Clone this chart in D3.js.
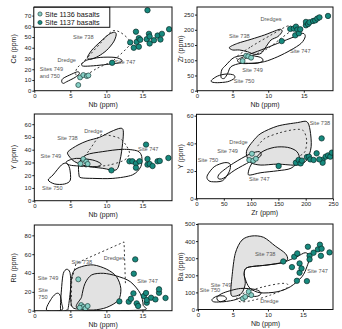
<!DOCTYPE html>
<html><head><meta charset="utf-8">
<script src="https://cdn.jsdelivr.net/npm/d3@7"></script>
<style>body{margin:0;background:#fff}svg{display:block}text{font-family:"Liberation Sans",Arial,sans-serif}</style>
</head><body>
<svg id="c" width="342" height="329"></svg>
<script>
// ---------- DATA ----------
const seriesNames = ["Site 1136 basalts", "Site 1137 basalts"];
// Panel 1: Nb vs Ce
const p1_1136 = [[6.1,5.3],[6.35,12.4],[6.8,14.6],[7.28,13.6],[7.5,14.2]];
const p1_1137 = [[10.8,26],[13.3,45],[13.8,40],[14.2,45.5],[14.1,55],[14.5,41],[14.5,49],[14.7,47.5],[15.6,48],[15.7,75],[15.9,53],[16.0,44],[16.0,50.5],[16.6,47],[17.1,51.4],[17.5,47.7],[17.7,53],[18.7,57.3]];
const p1_738 = [[7.37,31],[7.98,37.8],[9.14,45.5],[10.3,52.3],[11.13,54.5],[11.36,52],[11.0,45.5],[10.06,37.8],[8.9,32.2],[7.84,29.4]];
const p1_747 = [[6.59,24.8],[7.28,28.5],[9.14,31],[11.2,31],[12.15,28.5],[11.8,26],[10.06,24.5],[8.2,23.2],[6.8,22.9]];
const p1_749750 = [[3.8,8.4],[4.0,11.5],[5.2,15.5],[6.0,17.6],[6.26,16.1],[5.66,12.4],[4.5,8.4],[4.03,6.8]];
const p1_dredge = [[5.9,20.7],[7.05,28.5],[9.14,44],[10.76,55.4],[11.9,54.5],[13.1,47.7],[13.2,42.4],[11.0,28.5],[8.67,20.7],[6.59,12.4],[5.8,14.5]];
// Panel 2: Nb vs Zr
const p2_1136 = [[6.4,97.6],[6.9,115],[7.2,113],[7.6,108.5]];
const p2_1137 = [[11.9,163],[13.1,203],[13.6,204],[13.9,210.5],[14.1,200.7],[13.8,182],[14.3,188.6],[14.5,201.8],[15.3,215],[15.3,226],[15.6,219],[15.8,224.8],[16.3,229],[16.6,231],[16.9,237],[17.2,241],[18.4,245.6]];
const p2_738 = [[4.55,142.5],[5.72,155.7],[7.6,168.9],[9.47,183],[10.9,196],[11.7,201.8],[11.95,194],[11.35,177.6],[10.4,166.7],[9.7,144.7],[9.0,122.8],[8.06,119.5],[7.1,128],[5.95,133.8],[5.0,133.8]];
const p2_747 = [[5.72,100.9],[7.13,117.3],[9.0,133.8],[11.35,155.7],[13.7,177.6],[14.86,188.6],[15.2,177.6],[14.63,155.7],[13.2,133.8],[11.35,111.8],[9.47,95.4],[7.6,89.9],[6.19,89.9]];
const p2_749 = [[3.38,43.9],[3.47,68],[4.08,84.4],[5.25,109.6],[7.13,116.2],[8.9,109.6],[9.24,97.6],[8.3,89.9],[6.19,89.9],[4.78,79],[4.31,57],[3.84,40.6]];
const p2_750 = [[2.06,35.1],[2.9,48.2],[4.08,54.8],[5.16,51.5],[5.25,40.6],[4.31,29.6],[2.9,26.3],[2.1,28.5]];
const p2_dredge = [[5.5,109.6],[7.6,144.7],[10.4,183],[12.5,210.5],[13.2,212.7],[13.3,199.6],[11.8,172],[9.94,139],[8.06,117.3],[6.42,103]];
// Panel 3: Nb vs Y
const p3_1136 = [[6.4,29],[6.8,32.7],[7.2,30.6],[7.4,28.8]];
const p3_1137 = [[10.7,23.8],[13.2,30.9],[13.6,30.9],[14.1,29.3],[14.1,25.9],[14.6,30.9],[15.5,44],[15.7,32.7],[15.7,28.3],[16.0,28.8],[16.4,27.2],[17.1,30.9],[17.4,31.2],[18.6,33.5]];
const p3_738 = [[4.68,38.5],[6.06,43.7],[7.43,47.1],[9.04,49.7],[10.64,54.2],[11.9,56.8],[12.34,55],[12.25,45],[11.9,31.9],[11.33,24.1],[9.5,25.4],[7.2,27.2],[5.6,30.6],[4.8,35.1]];
const p3_747 = [[6.2,20.2],[6.2,29.3],[7.2,35.9],[9.5,38.5],[12.25,40.3],[14.3,39],[14.9,34.6],[14.77,26.7],[13.6,20.2],[10.9,17.5],[8.1,17.5],[6.5,18]];
const p3_749 = [[4.45,30.6],[5.83,33.2],[8.1,31.9],[9.27,28.8],[8.58,26.7],[6.28,27.2],[4.9,28]];
const p3_750 = [[1.93,16.2],[2.6,20.2],[3.76,28],[4.45,29.3],[4.9,25.4],[5.0,16.2],[4.2,13.1],[2.84,13.1]];
const p3_dredge = [[6.28,28],[7.66,39.8],[9.04,50.8],[9.95,51.6],[11.8,49],[12.7,43.7],[13.2,37.2],[12.5,31.9],[10.4,28],[8.1,26.7]];
// Panel 4: Zr vs Y
const p4_1136 = [[96.6,28],[104,27.5],[108.8,28.9],[101.5,32.5]];
const p4_1137 = [[150.4,23.6],[182,26],[187,28],[190.7,25.5],[193,27.5],[202.3,30.1],[206,30.4],[208.4,28.4],[214.5,28],[220,32.8],[229.2,43.6],[231,28],[231,26],[236.6,30.4],[241,31.3],[245,30.4],[248,33.3],[225,28.4]];
const p4_738 = [[92.3,35.2],[102.7,41.2],[118,47.2],[148.6,52.5],[185,55],[202,55.7],[208,49.6],[210,37.6],[202,28],[185,24.3],[148.6,25],[118,24.3],[99.6,26],[92.3,30.4]];
const p4_747 = [[94.6,18.3],[99.6,24.3],[118,33.3],[142.5,37.1],[166.9,37.1],[184,34],[188,28],[173,22],[148.6,20.2],[118,18.8],[98.4,17.1]];
const p4_749 = [[39.7,14.7],[42.8,18.3],[67.2,25.5],[97.8,32.3],[115,34],[117.4,30.8],[97.8,26.7],[70.3,20.7],[48.9,14.7]];
const p4_750 = [[20.2,17.1],[32.4,23.1],[50.7,26],[61.7,25],[59.9,19.5],[47.7,13],[27.5,12.3],[20.2,14]];
const p4_dredge = [[112,38],[125.3,43.6],[152.8,47.7],[180.3,50],[195.6,49.2],[201.7,42.4],[198.6,34],[186.4,30.4]];
// Panel 5: Nb vs Rb
const p5_1136 = [[6.1,33.3],[6.5,6],[6.8,4],[7.1,2.5],[7.4,5],[6.3,3.2]];
const p5_1137 = [[11.8,9.9],[13.1,9.6],[13.4,12.7],[13.75,18.4],[13.8,39.3],[14.0,54.5],[14.2,7.8],[14.4,5],[15.2,15.6],[15.5,18.8],[15.6,8.5],[15.6,11.3],[16.2,13.8],[16.8,12],[17.3,19],[17.3,22.7],[18.2,13.5]];
const p5_738 = [[5.19,5],[5.05,25.5],[5.42,41.5],[6.57,46.8],[8.2,48.6],[10.05,44],[11.4,36.2],[12,23.8],[11.67,11.3],[10.05,3.5],[8.2,0.7],[6.34,1.4]];
const p5_747 = [[6.34,1.4],[6.57,14.9],[7.04,29],[7.96,38],[9.6,39.7],[11.4,36.9],[13.3,30.9],[14.7,18.4],[15.1,6],[14.9,0.7]];
const p5_749 = [[3.66,0.7],[3.8,25.5],[4.03,39.7],[4.5,44],[4.95,40.4],[5.05,25.5],[4.72,3.5],[4.5,0.7]];
const p5_750 = [[1.71,0.7],[2.4,13.1],[3.1,18.4],[3.56,16.7],[3.8,7.8],[3.8,0.7]];
const p5_dredge = [[5.1,5],[5.19,32.6],[5.8,50.4],[12.45,73],[12.64,29]];
// Panel 6: Nb vs Ba
const p6_1136 = [[6.43,64.5],[6.76,74.2],[7.24,103.5],[7.62,84]];
const p6_1137 = [[12.19,281],[13.43,248],[13.76,308.6],[14.19,328],[14.52,269.5],[14.52,215],[14.8,240],[14.14,168],[15.57,166],[15.71,367],[15.95,314],[15.95,293],[16.52,332],[17.14,351.6],[17.43,379],[17.67,355.5],[17.57,314],[18.8,334]];
const p6_738 = [[4.71,89.8],[4.86,191.4],[5.33,328],[6.29,406],[7.71,430],[9.38,422],[11.05,371],[12.48,328],[12.8,293],[12,273],[9.86,260],[7.1,246],[6.6,211],[6.76,152],[6.29,97.7],[5.33,78]];
const p6_747 = [[6.6,211],[7.1,246],[9.86,260],[12.24,277],[14.14,308.6],[15.33,332],[15.95,308.6],[15.57,250],[14.86,191.4],[13.2,133],[11.3,103.5],[8.9,97.7],[7.48,123],[6.9,162]];
const p6_749 = [[2.71,70.3],[3.67,97.7],[6.05,123],[8.2,117],[9.0,97.7],[8.5,78],[6.5,74],[5.1,54.7],[3.19,45]];
const p6_750 = [[2.0,58.6],[2.71,78],[3.76,78],[4.05,58.6],[3.19,45],[2.24,45]];
const p6_dredge = [[5.57,70.3],[7.0,103.5],[9.38,133],[11.76,152],[12.8,148],[12.6,123],[10.33,84],[7.95,54.7],[6.05,45]];

// tick values
const ticksNb = [0,5,10,15];
const ticksZrX = [0,50,100,150,200,250];
const ticksCe = [0,10,20,30,40,50,60,70];
const ticksZr = [0,50,100,150,200,250];
const ticksY = [0,10,20,30,40,50,60];
const ticksY4 = [0,20,40,60];
const ticksRb = [0,20,40,60,80];
const ticksBa = [0,100,200,300,400,500];

// field labels: [text, x, y, anchor]
const p1_labels = [["Site 738",6.8,48],["Dredge",4.5,26.5],["Site 747",12.6,24.5],["Sites 749",0.75,18.2,"start"],["and 750",0.75,12.2,"start"]];
const p2_labels = [["Dredges",10.4,229],["Site 738",5.95,172],["Site 747",14.5,123],["Site 749",7.8,62],["Site 750",6.6,24]];
const p3_labels = [["Dredge",8.2,53],["Site 738",4.6,47.5],["Site 749",2.3,33.5],["Site 747",15.8,38.8],["Site 750",2.5,8.7]];
const p4_labels = [["Site 738",226,53],["Dredge",77,39.5],["Site 749",57,32.7],["Site 750",21,26.2],["Site 747",115,13]];
const p5_labels = [["Site 738",6.6,50],["Dredges",11.1,54],["Site 749",1.9,32.8],["Site",1.2,19.8],["750",1.2,12.7],["Site 747",15.7,29.3]];
const p6_labels = [["Site 738",9.6,314],["Site 747",17.1,216],["Site 749",3.3,133],["Site 750",1.7,100],["Dredge",10.2,40]];

// ---------- LAYOUT ----------
const panels = [
  {x:[0,19.1], xr:[34.3,172], y:[0,78], yr:[90.7,7], xt:ticksNb, yt:ticksCe, xl:"Nb (ppm)", yl:"Ce (ppm)", ylx:16,
   light:p1_1136, dark:p1_1137, gray:[p1_738], solid:[p1_747,p1_749750], dashed:[p1_dredge], open:[], labels:p1_labels},
  {x:[0,19.1], xr:[197,333], y:[0,275], yr:[90.7,7], xt:ticksNb, yt:ticksZr, xl:"Nb (ppm)", yl:"Zr (ppm)", ylx:183,
   light:p2_1136, dark:p2_1137, gray:[p2_738], solid:[p2_747,p2_749,p2_750], dashed:[p2_dredge], open:[], labels:p2_labels},
  {x:[0,19.1], xr:[34.3,172], y:[0,68], yr:[200.7,114], xt:ticksNb, yt:ticksY, xl:"Nb (ppm)", yl:"Y (ppm)", ylx:16,
   light:p3_1136, dark:p3_1137, gray:[p3_738], solid:[p3_747,p3_749,p3_750], dashed:[p3_dredge], open:[], labels:p3_labels},
  {x:[0,250], xr:[196.5,333], y:[0,61], yr:[198.7,114.3], xt:ticksZrX, yt:ticksY4, xl:"Zr (ppm)", yl:"Y (ppm)", ylx:183,
   light:p4_1136, dark:p4_1137, gray:[p4_738], solid:[p4_747,p4_749,p4_750], dashed:[], open:[p4_dredge], labels:p4_labels},
  {x:[0,19.1], xr:[34.3,172], y:[0,91], yr:[310.7,225], xt:ticksNb, yt:ticksRb, xl:"Nb (ppm)", yl:"Rb (ppm)", ylx:16,
   light:p5_1136, dark:p5_1137, gray:[p5_738], solid:[p5_747,p5_749,p5_750], dashed:[], open:[p5_dredge], openLinear:true, labels:p5_labels},
  {x:[0,19.3], xr:[198,333], y:[0,500], yr:[309.5,224], xt:ticksNb, yt:ticksBa, xl:"Nb (ppm)", yl:"Ba (ppm)", ylx:183,
   light:p6_1136, dark:p6_1137, gray:[p6_738], solid:[p6_747,p6_749,p6_750], dashed:[p6_dredge], open:[], labels:p6_labels}
];

const svg = d3.select("#c");
const LIGHT = "#86cfc5", DARK = "#178a7e";

panels.forEach((p, i) => {
  const x = d3.scaleLinear().domain(p.x).range(p.xr);
  const y = d3.scaleLinear().domain(p.y).range(p.yr);
  const g = svg.append("g");
  const clipId = "clip" + i;
  g.append("clipPath").attr("id", clipId).append("rect")
    .attr("x", p.xr[0]).attr("y", p.yr[1]).attr("width", p.xr[1]-p.xr[0]).attr("height", p.yr[0]-p.yr[1]);
  const body = g.append("g").attr("clip-path", `url(#${clipId})`);
  const closed = d3.line().x(d => x(d[0])).y(d => y(d[1])).curve(d3.curveCardinalClosed.tension(0.1));
  const openL = d3.line().x(d => x(d[0])).y(d => y(d[1])).curve(p.openLinear ? d3.curveLinear : d3.curveCardinal.tension(0.1));

  p.gray.forEach(f => body.append("path").attr("d", closed(f)).attr("fill", "#e2e2e2").attr("stroke", "#111").attr("stroke-width", 1));
  p.solid.forEach(f => body.append("path").attr("d", closed(f)).attr("fill", "none").attr("stroke", "#111").attr("stroke-width", 1));
  p.dashed.forEach(f => body.append("path").attr("d", closed(f)).attr("fill", "none").attr("stroke", "#222").attr("stroke-width", 0.9).attr("stroke-dasharray", "2,2.5"));
  p.open.forEach(f => body.append("path").attr("d", openL(f)).attr("fill", "none").attr("stroke", "#222").attr("stroke-width", 0.9).attr("stroke-dasharray", "2,2.5"));

  // axes
  const xa = d3.axisBottom(x).tickValues(p.xt).tickSize(2).tickPadding(1);
  const ya = d3.axisLeft(y).tickValues(p.yt).tickSize(2).tickPadding(1);
  const gx = g.append("g").attr("transform", `translate(0,${p.yr[0]})`).call(xa);
  const gy = g.append("g").attr("transform", `translate(${p.xr[0]},0)`).call(ya);
  [gx, gy].forEach(a => {
    a.select(".domain").remove();
    a.selectAll("line").attr("stroke", "#222");
    a.selectAll("text").attr("font-size", 6).attr("fill", "#222").attr("font-family", '"Liberation Sans",Arial,sans-serif');
  });
  g.append("rect").attr("x", p.xr[0]).attr("y", p.yr[1]).attr("width", p.xr[1]-p.xr[0]).attr("height", p.yr[0]-p.yr[1])
    .attr("fill", "none").attr("stroke", "#111").attr("stroke-width", 1);

  // points
  body.selectAll(".lt").data(p.light).join("circle").attr("cx", d => x(d[0])).attr("cy", d => y(d[1])).attr("r", 2.5)
    .attr("fill", LIGHT).attr("stroke", "#1c3f3b").attr("stroke-width", 0.7);
  body.selectAll(".dk").data(p.dark).join("circle").attr("cx", d => x(d[0])).attr("cy", d => y(d[1])).attr("r", 2.7)
    .attr("fill", DARK).attr("stroke", "#0c2b28").attr("stroke-width", 0.7);

  // field labels
  g.selectAll(".fl").data(p.labels).join("text").attr("x", d => x(d[1])).attr("y", d => y(d[2]))
    .attr("text-anchor", d => d[3] || "middle").attr("font-size", 5.6).attr("fill", "#555").text(d => d[0]);

  // axis titles
  g.append("text").attr("x", (p.xr[0]+p.xr[1])/2).attr("y", p.yr[0]+16.5).attr("text-anchor", "middle")
    .attr("font-size", 7).attr("fill", "#222").text(p.xl);
  g.append("text").attr("transform", `translate(${p.ylx},${(p.yr[0]+p.yr[1])/2}) rotate(-90)`).attr("text-anchor", "middle")
    .attr("font-size", 7).attr("fill", "#222").text(p.yl);
});

// legend (panel 1)
const lg = svg.append("g");
lg.append("rect").attr("x", 33.8).attr("y", 7.3).attr("width", 76).attr("height", 20).attr("fill", "#fff").attr("stroke", "#111").attr("stroke-width", 1);
[LIGHT, DARK].forEach((c, i) => {
  lg.append("circle").attr("cx", 40).attr("cy", 14 + i*8.5).attr("r", 2.1).attr("fill", c).attr("stroke", "#0c2b28").attr("stroke-width", 0.6);
  lg.append("text").attr("x", 45).attr("y", 16.6 + i*8.5).attr("font-size", 7.2).attr("fill", "#111").text(seriesNames[i]);
});
</script>
</body></html>
